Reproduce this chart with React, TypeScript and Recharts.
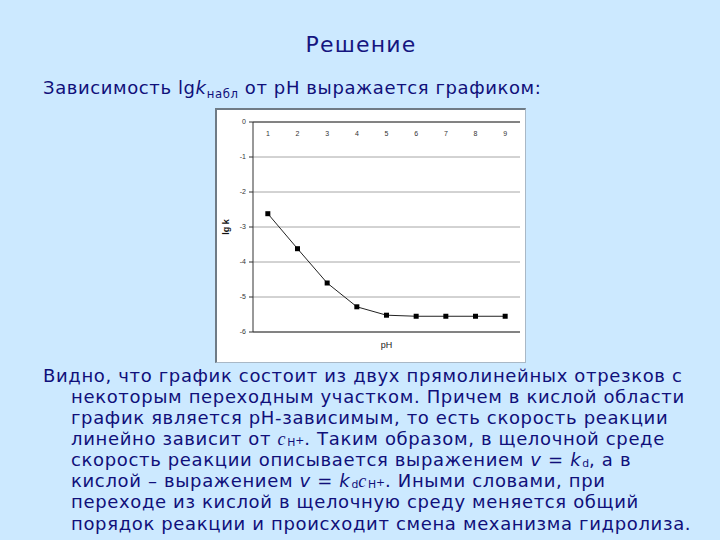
import React from 'react';
import { LineChart, Line, XAxis, YAxis, CartesianGrid } from 'recharts';

const phLabels = ['1', '2', '3', '4', '5', '6', '7', '8', '9'];
const lgKValues = [-2.62, -3.62, -4.6, -5.28, -5.52, -5.55, -5.55, -5.55, -5.55];
const yTicks = [0, -1, -2, -3, -4, -5, -6];

const data = phLabels.map((ph, i) => ({ ph, lgk: lgKValues[i] }));

const TEXT = '#10107a';
const FONT = '"DejaVu Sans", Verdana, sans-serif';
const CHART_FONT = '"Liberation Sans", Arial, sans-serif';

const SquareDot = (props: any) => {
  const { cx, cy, index } = props;
  if (cx == null || cy == null) return <g key={`d${index}`} />;
  return <rect key={`d${index}`} x={cx - 2.5} y={cy - 2.5} width={5} height={5} fill="#000" />;
};

const TopTick = (props: any) => {
  const { x, y, payload } = props;
  return (
    <text x={x} y={y + 14} textAnchor="middle" fontSize={7} fill="#333" fontFamily={CHART_FONT}>
      {payload.value}
    </text>
  );
};

const subStyle: React.CSSProperties = {
  fontSize: '0.6em',
  position: 'relative',
  top: '0.1em',
  letterSpacing: 0,
};
const supStyle: React.CSSProperties = {
  fontSize: '0.6em',
  position: 'relative',
  top: '-0.1em',
  letterSpacing: 0,
};

const CH = () => (
  <span>
    <i style={{ fontFamily: '"Liberation Serif", serif', marginRight: 1 }}>c</i>
    <span style={subStyle}>H</span>
    <span style={supStyle}>+</span>
  </span>
);
const KD = () => (
  <span>
    <i style={{ marginRight: 1 }}>k</i>
    <span style={subStyle}>d</span>
  </span>
);

export default function App() {
  const lineStyle: React.CSSProperties = { whiteSpace: 'nowrap', height: 21.1 };
  return (
    <div
      style={{
        position: 'absolute',
        left: 0,
        top: 0,
        width: 720,
        height: 540,
        background: '#cce9ff',
        fontFamily: FONT,
        color: TEXT,
        overflow: 'hidden',
      }}
    >
      <div
        style={{
          position: 'absolute',
          left: 0,
          width: 722,
          top: 34.4,
          textAlign: 'center',
          fontSize: 22,
          letterSpacing: 1.2,
          lineHeight: '22px',
          color: '#15157f',
        }}
      >
        Решение
      </div>
      <div
        style={{
          position: 'absolute',
          left: 43,
          top: 77,
          fontSize: 18,
          letterSpacing: 0.6,
          lineHeight: '21px',
          whiteSpace: 'nowrap',
        }}
      >
        Зависимость lg<i>k</i>
        <span style={{ fontSize: '0.65em', verticalAlign: '-0.3em' }}>набл</span> от pH выражается графиком:
      </div>

      <div
        style={{
          position: 'absolute',
          left: 215,
          top: 108,
          width: 311,
          height: 255,
          boxSizing: 'border-box',
          background: '#fff',
          borderLeft: '2px solid #6f7b86',
          borderTop: '2px solid #6f7b86',
          borderRight: '1px solid #a9b8c6',
          borderBottom: '1px solid #a9b8c6',
        }}
      />
      <div style={{ position: 'absolute', left: 215, top: 108 }}>
        <LineChart width={311} height={255} data={data} margin={{ top: 13, right: 6, left: 0, bottom: 0 }}>
          <CartesianGrid vertical={false} stroke="#a6a6a6" strokeWidth={1} />
          <XAxis
            dataKey="ph"
            orientation="top"
            scale="band"
            height={1}
            tickSize={0}
            tickMargin={0}
            tickLine={false}
            axisLine={{ stroke: '#333' }}
            tick={TopTick}
            interval={0}
          />
          <XAxis
            xAxisId="b"
            dataKey="ph"
            orientation="bottom"
            scale="band"
            height={31}
            tick={false}
            tickLine={false}
            axisLine={{ stroke: '#333' }}
            label={{
              value: 'pH',
              position: 'insideTop',
              offset: 10,
              style: { fontSize: 9, fill: '#222', fontFamily: CHART_FONT },
            }}
          />
          <YAxis
            type="number"
            domain={[-6, 0]}
            ticks={yTicks}
            interval={0}
            width={38}
            tickSize={4}
            tickMargin={3}
            tickLine={{ stroke: '#333' }}
            axisLine={{ stroke: '#333' }}
            tick={{ fontSize: 7, fill: '#333', fontFamily: CHART_FONT }}
            label={{
              value: 'lg k',
              angle: -90,
              position: 'insideLeft',
              offset: 11,
              style: {
                textAnchor: 'middle',
                fontSize: 9,
                fontWeight: 'bold',
                fill: '#111',
                fontFamily: CHART_FONT,
              },
            }}
          />
          <YAxis
            yAxisId="r"
            orientation="right"
            type="number"
            domain={[-6, 0]}
            width={0}
            tick={false}
            tickLine={false}
            axisLine={{ stroke: '#333' }}
          />
          <Line
            type="linear"
            dataKey="lgk"
            stroke="#222"
            strokeWidth={1}
            dot={SquareDot}
            activeDot={false}
            isAnimationActive={false}
          />
        </LineChart>
      </div>

      <div
        style={{
          position: 'absolute',
          left: 43,
          top: 364.9,
          fontSize: 18,
          letterSpacing: 0.65,
          lineHeight: '21.1px',
        }}
      >
        <div style={lineStyle}>Видно, что график состоит из двух прямолинейных отрезков с</div>
        <div style={{ ...lineStyle, marginLeft: 28 }}>некоторым переходным участком. Причем в кислой области</div>
        <div style={{ ...lineStyle, marginLeft: 28 }}>график является pH-зависимым, то есть скорость реакции</div>
        <div style={{ ...lineStyle, marginLeft: 28 }}>
          линейно зависит от <CH />. Таким образом, в щелочной среде
        </div>
        <div style={{ ...lineStyle, marginLeft: 28 }}>
          скорость реакции описывается выражением <i>v</i> = <KD />, а в
        </div>
        <div style={{ ...lineStyle, marginLeft: 28 }}>
          кислой – выражением <i>v</i> = <KD />
          <CH />. Иными словами, при
        </div>
        <div style={{ ...lineStyle, marginLeft: 28 }}>переходе из кислой в щелочную среду меняется общий</div>
        <div style={{ ...lineStyle, marginLeft: 28 }}>порядок реакции и происходит смена механизма гидролиза.</div>
      </div>
    </div>
  );
}
